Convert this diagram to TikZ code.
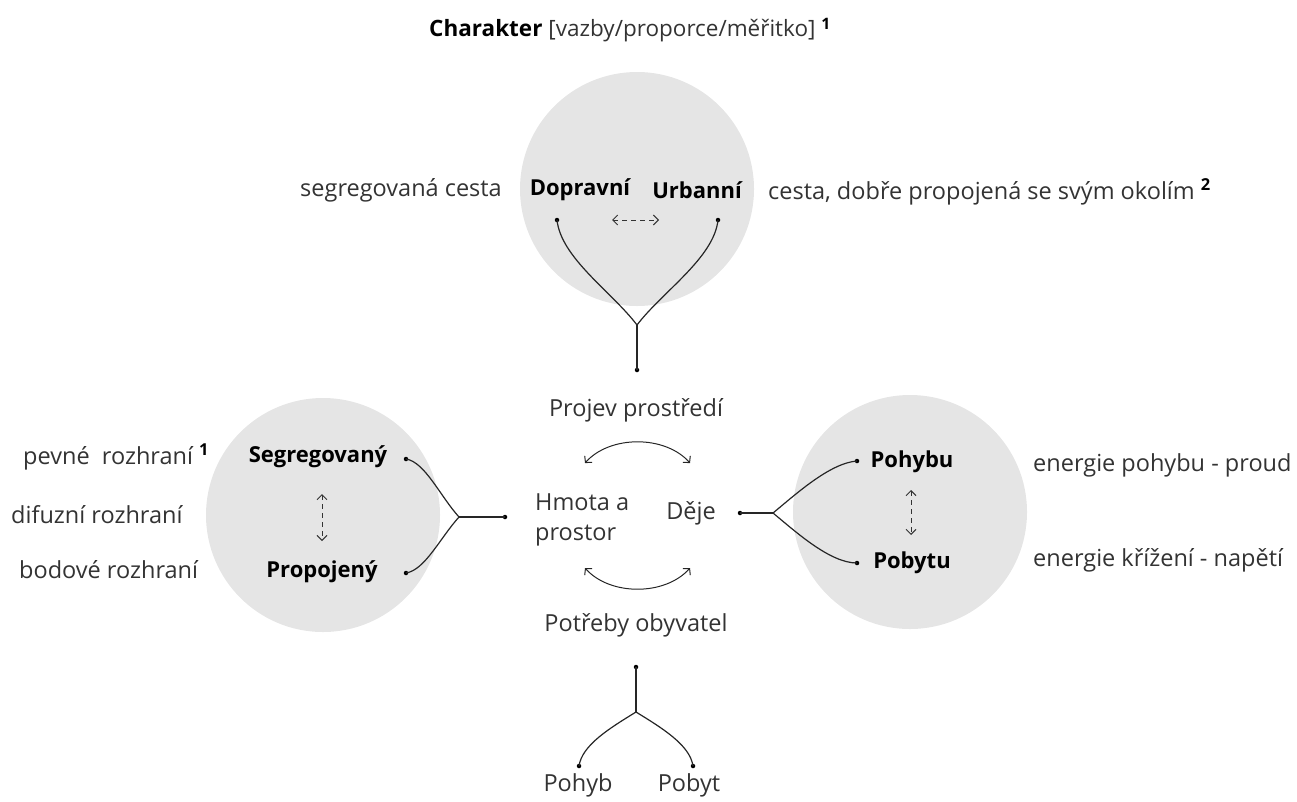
\documentclass[tikz,border=0pt]{standalone}
\usepackage{fontspec}
\setmainfont{Open Sans}
\usetikzlibrary{arrows.meta}
\definecolor{disc}{HTML}{E5E5E5}
\definecolor{ink}{HTML}{333333}
\begin{document}
\begin{tikzpicture}[x=1pt,y=-1pt,
  disk/.style={fill=disc,draw=none},
  lab/.style={font=\fontsize{23.5}{30}\selectfont,text=ink,inner sep=0pt},
  key/.style={font=\fontsize{22}{26}\selectfont\bfseries,text=black,inner sep=0pt},
  dot/.style={circle,fill=black,inner sep=0pt,minimum size=4.5pt},
  link/.style={line width=1.2pt,draw=black!85},
  swap/.style={dashed,dash pattern=on 5pt off 4pt,line width=1pt,draw=black!80,
    {Straight Barb[length=5pt,width=10pt]}-{Straight Barb[length=5pt,width=10pt]}},
  turn/.style={line width=1pt,draw=black!85,
    {Straight Barb[length=4.5pt,width=10pt]}-{Straight Barb[length=4.5pt,width=10pt]}}
]
\useasboundingbox (0,0) rectangle (1297,801);

% grey discs
\fill[disk] (637,189) circle (117);
\fill[disk] (323,515) circle (117);
\fill[disk] (910,512) circle (117);

% heading
\node[anchor=west,inner sep=0pt] (title) at (429,30)
  {\fontsize{22.5}{26}\selectfont\textbf{Charakter} \textcolor{ink}{[vazby/proporce/měřitko]} \textsuperscript{\bfseries 1}};

% upper group
\node[lab,anchor=east] (segcesta) at (502,190) {segregovaná cesta};
\node[key] (doprav) at (580,190) {Dopravní};
\node[key] (urban) at (697,190) {Urbanní};
\node[lab,anchor=west] (urbcesta) at (768,192) {cesta, dobře propojená se svým okolím \textsuperscript{\bfseries\color{black}2}};
\node[dot] (dD) at (557,220) {};
\node[dot] (dU) at (718,220) {};
\coordinate (aL) at (612,220);
\coordinate (aR) at (659,220);
\draw[swap] (aL) -- (aR);
\coordinate (bT) at (637,325);
\node[dot] (sT) at (637,370) {};
\draw[link] (dD.center) .. controls (561,258) and (612,292) .. (bT);
\draw[link] (dU.center) .. controls (714,258) and (662,292) .. (bT);
\draw[link] (bT) -- (sT.center);

% centre
\node[lab] (projev) at (636,410) {Projev prostředí};
\node[lab,anchor=west,align=left] (hmota) at (535,520) {Hmota a\\prostor};
\node[lab] (deje) at (691,513) {Děje};
\node[lab] (potreby) at (636,625) {Potřeby obyvatel};
\coordinate (u1) at (585,463);
\coordinate (u2) at (690,463);
\coordinate (l1) at (585,568);
\coordinate (l2) at (690,568);
\draw[turn] (u1) .. controls (610,435) and (665,435) .. (u2);
\draw[turn] (l1) .. controls (610,596) and (665,596) .. (l2);

% left group
\node[key] (segreg) at (318,457) {Segregovaný};
\node[key] (propoj) at (322,572) {Propojený};
\node[lab,anchor=west] (pevne) at (23,457) {pevné\ \ rozhraní \textsuperscript{\bfseries\color{black}1}};
\node[lab,anchor=west] (difuz) at (11,515) {difuzní rozhraní};
\node[lab,anchor=west] (bodove) at (19,570) {bodové rozhraní};
\coordinate (vA) at (322,494);
\coordinate (vB) at (322,541);
\draw[swap] (vA) -- (vB);
\node[dot] (dS) at (406,459) {};
\node[dot] (dP) at (406,573) {};
\coordinate (bL) at (459,517);
\node[dot] (sL) at (505,517) {};
\draw[link] (dS.center) .. controls (425,462) and (440,496) .. (bL);
\draw[link] (dP.center) .. controls (425,570) and (440,538) .. (bL);
\draw[link] (bL) -- (sL.center);

% right group
\node[key] (pohybu) at (912,462) {Pohybu};
\node[key] (pobytu) at (912,563) {Pobytu};
\node[lab,anchor=west] (proud) at (1033,465) {energie pohybu - proud};
\node[lab,anchor=west] (napeti) at (1033,560) {energie křížení - napětí};
\coordinate (wA) at (911,490);
\coordinate (wB) at (911,535);
\draw[swap] (wA) -- (wB);
\node[dot] (sR) at (740,513) {};
\coordinate (bR) at (773,513);
\node[dot] (dH) at (857,461) {};
\node[dot] (dB) at (857,563) {};
\draw[link] (sR.center) -- (bR);
\draw[link] (bR) .. controls (796,494) and (830,463) .. (dH.center);
\draw[link] (bR) .. controls (796,532) and (830,563) .. (dB.center);

% lower group
\node[dot] (sB) at (636,667) {};
\coordinate (bB) at (636,712);
\node[dot] (dY) at (579,766) {};
\node[dot] (dT) at (693,766) {};
\draw[link] (sB.center) -- (bB);
\draw[link] (bB) .. controls (610,728) and (582,745) .. (dY.center);
\draw[link] (bB) .. controls (662,728) and (690,745) .. (dT.center);
\node[lab] (pohyb) at (578,785) {Pohyb};
\node[lab] (pobyt) at (689,785) {Pobyt};
\end{tikzpicture}
\end{document}
